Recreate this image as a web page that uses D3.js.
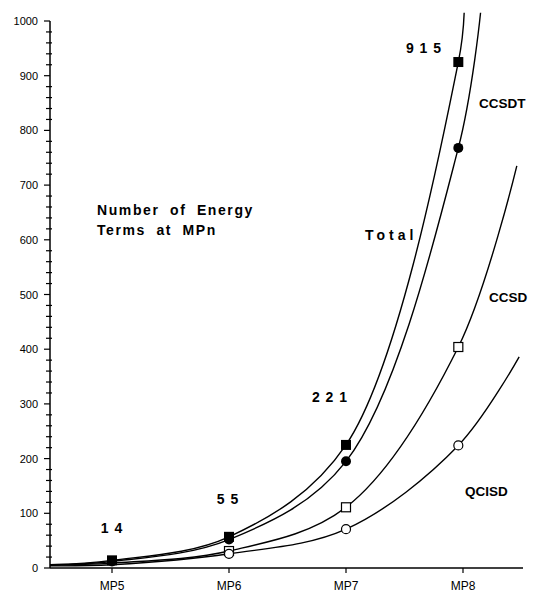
<!DOCTYPE html>
<html><head><meta charset="utf-8">
<script src="https://cdn.jsdelivr.net/npm/d3@7"></script>
<style>body{margin:0;background:#fff}svg{display:block}</style>
</head><body>
<svg id="c" width="538" height="593"></svg>
<script>
const categories = ["MP5","MP6","MP7","MP8"];
const tickOrders = [5,6,7,8];
const markerOrders = [5,6,7,7.96];
const yTicks = [0,100,200,300,400,500,600,700,800,900,1000];
const total = [14,57,225,925];
const ccsdt = [12,52,195,768];
const ccsd = [9,31,111,404];
const qcisd = [6,26,71,224];
// curve extension points: [order, value]
const totalEnds = [[4.47,6],[8.01,1015]];
const ccsdtEnds = [[4.47,6],[8.15,1015]];
const ccsdEnds = [[4.47,5],[8.46,735]];
const qcisdEnds = [[4.47,4],[8.48,386]];
const numLabels = ["1 4","5 5","2 2 1","9 1 5"];

const svg = d3.select("#c");
const x = d3.scaleLinear().domain([5,8]).range([112,463]);
const y = d3.scaleLinear().domain([0,1000]).range([568,21]);
const font = "Arial, 'Liberation Sans', Helvetica, sans-serif";

// y axis
svg.append("line").attr("x1",50).attr("x2",50).attr("y1",y(1000)).attr("y2",y(0)).attr("stroke","#000").attr("stroke-width",1.5);
d3.range(0,1001,20).forEach(v=>{
  const major = v%100===0;
  svg.append("line").attr("x1",major?44:46).attr("x2",major?50:52).attr("y1",y(v)).attr("y2",y(v)).attr("stroke","#000").attr("stroke-width",1.2);
});
yTicks.forEach(v=>{
  svg.append("text").attr("x",38).attr("y",y(v)+4).attr("text-anchor","end")
    .attr("font-family",font).attr("font-size",11).text(v);
});
// x axis
svg.append("line").attr("x1",50).attr("x2",523).attr("y1",y(0)).attr("y2",y(0)).attr("stroke","#000").attr("stroke-width",1.5);
tickOrders.forEach((n,i)=>{
  svg.append("line").attr("x1",x(n)).attr("x2",x(n)).attr("y1",y(0)).attr("y2",y(0)+5).attr("stroke","#000").attr("stroke-width",1.2);
  svg.append("text").attr("x",x(n)).attr("y",y(0)+22).attr("text-anchor","middle")
    .attr("font-family",font).attr("font-size",12).text(categories[i]);
});

const line = d3.line().x(d=>x(d[0])).y(d=>y(d[1])).curve(d3.curveCatmullRom.alpha(0.5));
function pts(vals, ends){
  return [ends[0], ...vals.map((v,i)=>[markerOrders[i],v]), ends[1]];
}
[[total,totalEnds],[ccsdt,ccsdtEnds],[ccsd,ccsdEnds],[qcisd,qcisdEnds]].forEach(([v,e])=>{
  svg.append("path").attr("d",line(pts(v,e))).attr("fill","none").attr("stroke","#000").attr("stroke-width",1.4);
});

// markers
total.forEach((v,i)=>svg.append("rect").attr("x",x(markerOrders[i])-5).attr("y",y(v)-5).attr("width",10).attr("height",10).attr("fill","#000"));
ccsdt.forEach((v,i)=>svg.append("circle").attr("cx",x(markerOrders[i])).attr("cy",y(v)).attr("r",5).attr("fill","#000"));
ccsd.forEach((v,i)=>{ if(i===0) return; svg.append("rect").attr("x",x(markerOrders[i])-4.5).attr("y",y(v)-4.5).attr("width",9).attr("height",9).attr("fill","#fff").attr("stroke","#000").attr("stroke-width",1.2);});
qcisd.forEach((v,i)=>{ if(i===0) return; svg.append("circle").attr("cx",x(markerOrders[i])).attr("cy",y(v)).attr("r",4.5).attr("fill","#fff").attr("stroke","#000").attr("stroke-width",1.2);});

// labels
const lbl = (t,xx,yy,opts={})=>svg.append("text").attr("x",xx).attr("y",yy).attr("font-family",font)
  .attr("font-weight","bold").attr("font-size",opts.size||14).attr("text-anchor",opts.anchor||"start")
  .attr("letter-spacing",opts.ls||0).attr("word-spacing",opts.ws||0).text(t);
const numPos = [[112,533],[228,504],[330,402],[424,53]];
numLabels.forEach((t,i)=>lbl(t,numPos[i][0],numPos[i][1],{anchor:"middle",ls:1}));
lbl("CCSDT",479,108,{size:13.5});
lbl("Total",365,240,{ls:4});
lbl("CCSD",489,302,{size:13.5});
lbl("QCISD",465,496,{size:13.5});
lbl("Number of Energy",97,215,{ls:1.6,ws:5});
lbl("Terms at MPn",97,235,{ls:1.6,ws:5});
</script>
</body></html>
